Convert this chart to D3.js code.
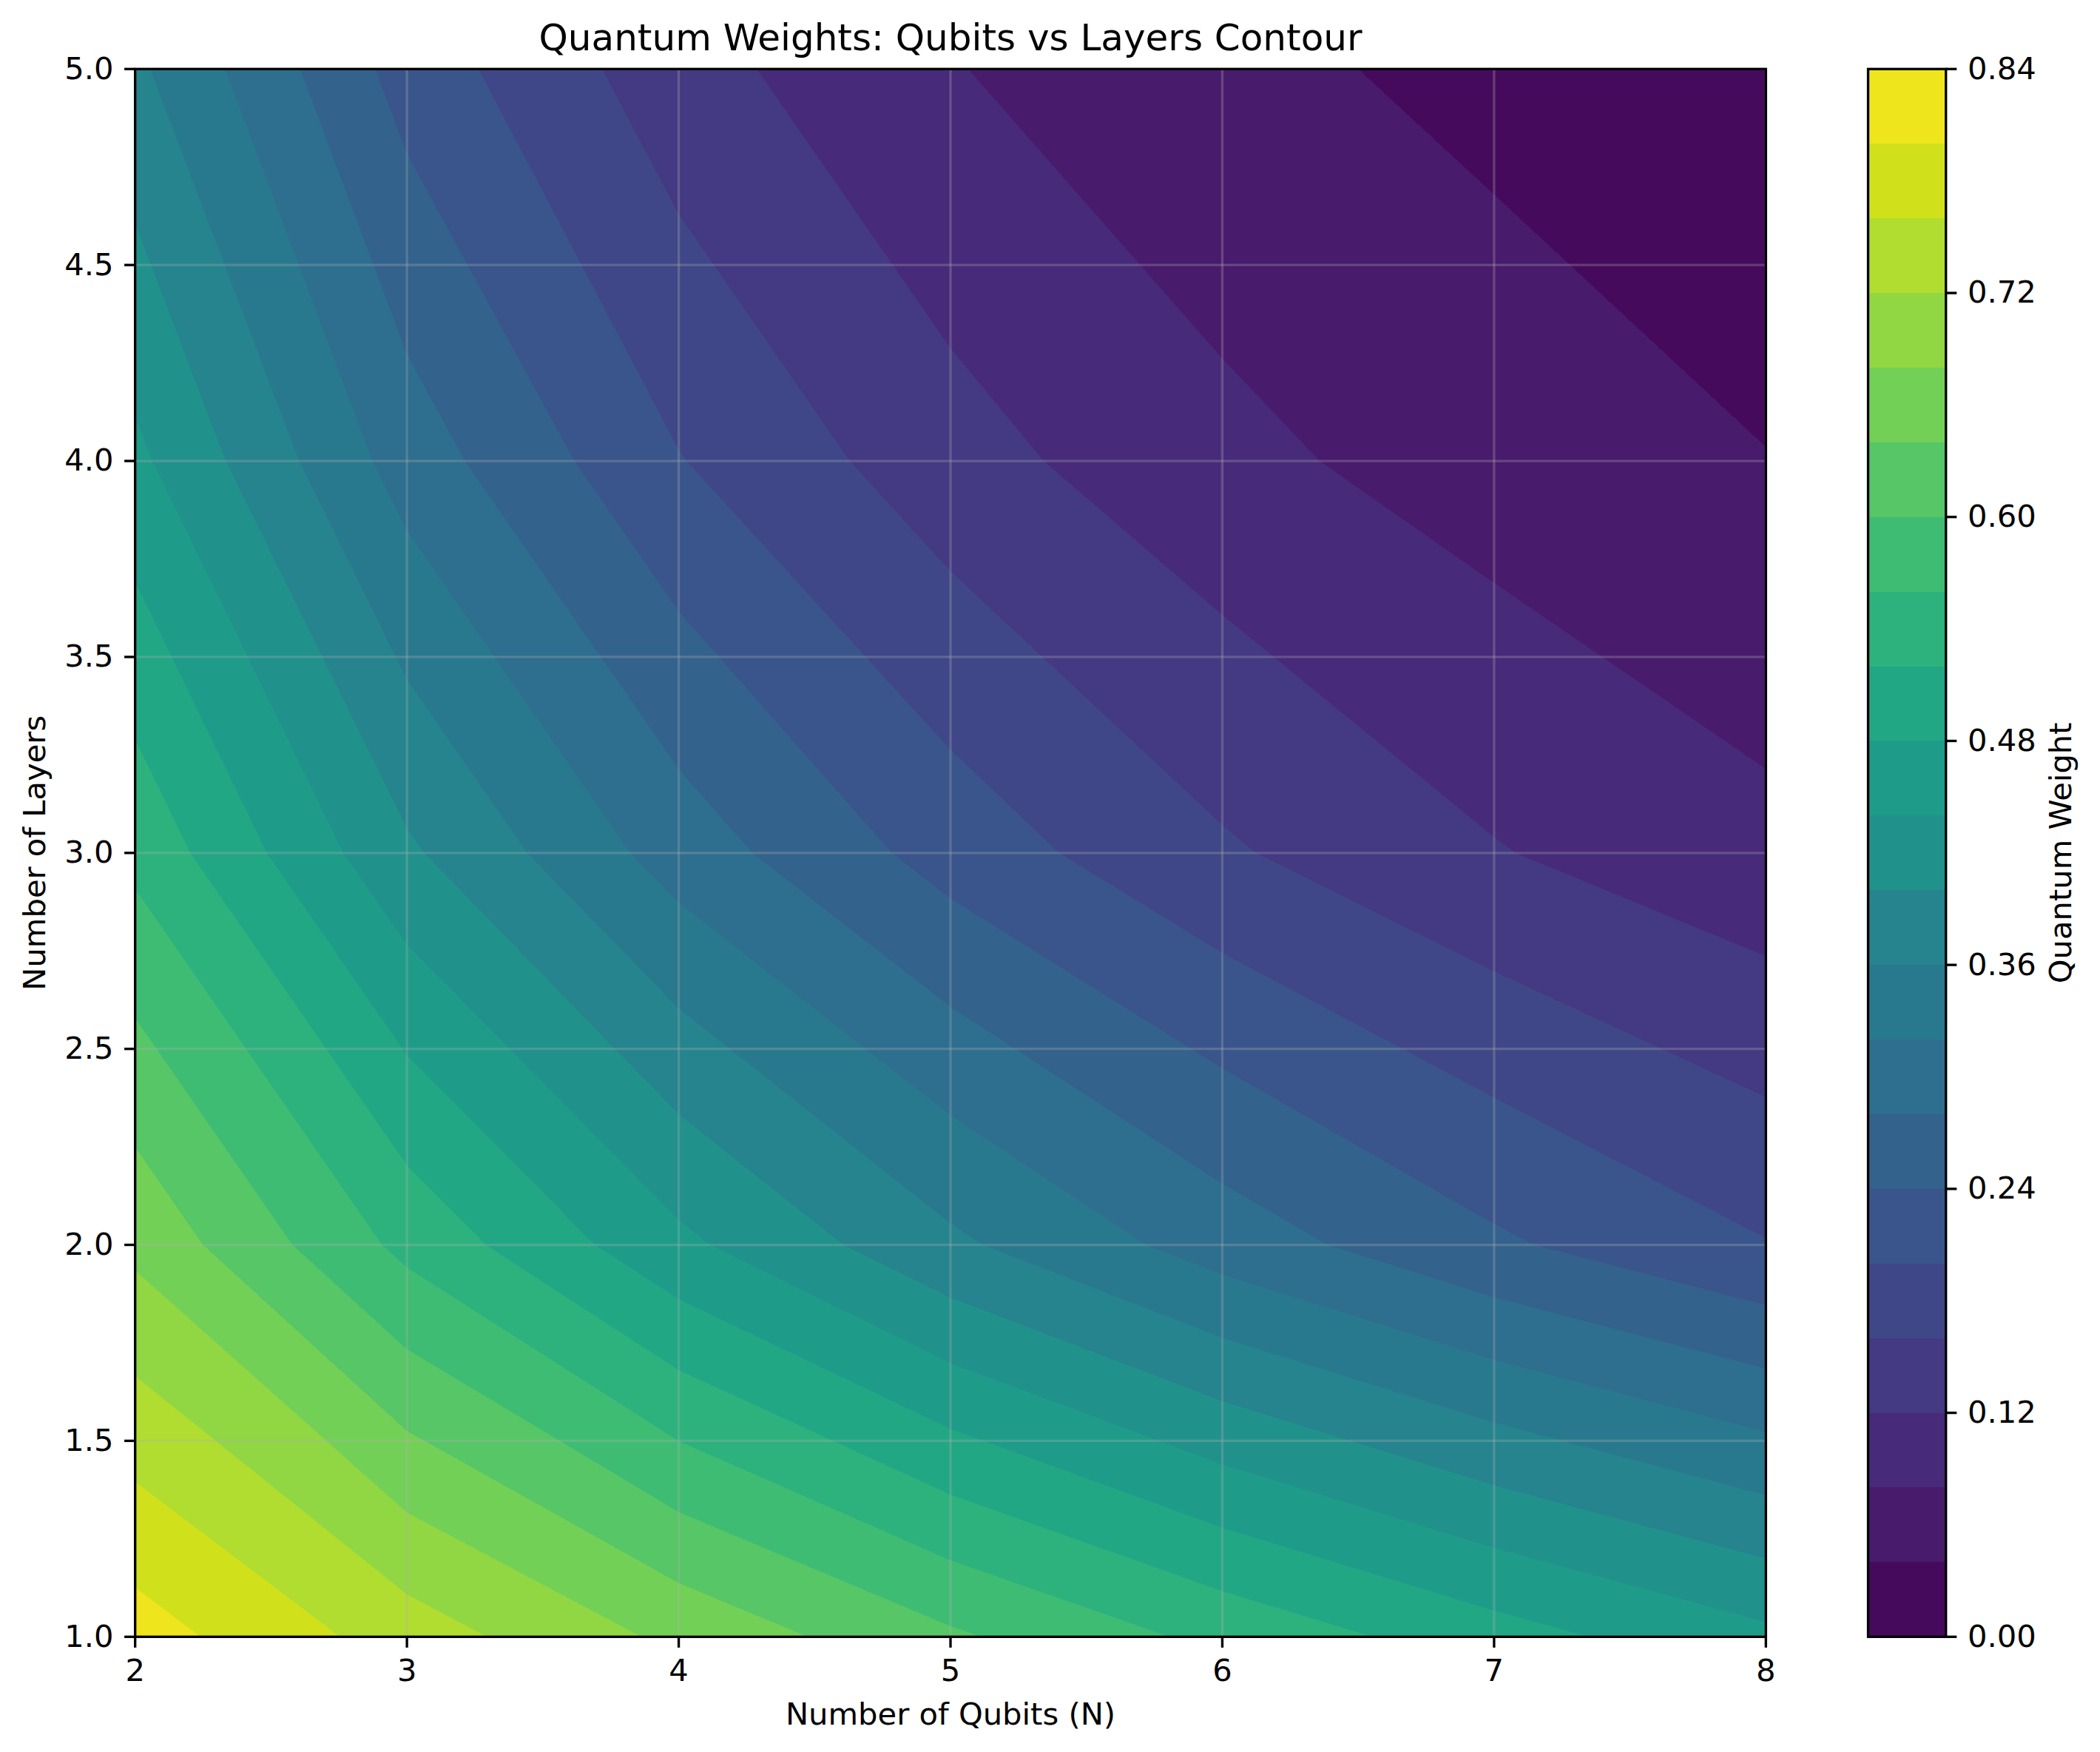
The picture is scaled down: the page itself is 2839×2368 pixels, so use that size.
<!DOCTYPE html>
<html>
<head>
<meta charset="utf-8">
<script src="https://cdn.jsdelivr.net/npm/d3@7"></script>
<style>
  body { margin: 0; background: #fff; }
  text { font-family: "DejaVu Sans", sans-serif; fill: #000; }
</style>
</head>
<body>
<script>
const qubits = [2, 3, 4, 5, 6, 7, 8];
const layers = [1, 2, 3, 4, 5];

// one row per layer count, read along the qubit axis
const weightsL1 = [0.8187, 0.7408, 0.6703, 0.6065, 0.5488, 0.4966, 0.4493];
const weightsL2 = [0.6703, 0.5488, 0.4493, 0.3679, 0.3012, 0.2466, 0.2019];
const weightsL3 = [0.5488, 0.4066, 0.3012, 0.2231, 0.1653, 0.1225, 0.0907];
const weightsL4 = [0.4493, 0.3012, 0.2019, 0.1353, 0.0907, 0.0608, 0.0408];
const weightsL5 = [0.3679, 0.2231, 0.1353, 0.0821, 0.0498, 0.0302, 0.0183];

const levels = [0, 0.04, 0.08, 0.12, 0.16, 0.2, 0.24, 0.28, 0.32, 0.36, 0.4, 0.44, 0.48, 0.52, 0.56, 0.6, 0.64, 0.68, 0.72, 0.76, 0.8, 0.84];
const yTicks = [1, 1.5, 2, 2.5, 3, 3.5, 4, 4.5, 5];
const barTicks = [0, 0.12, 0.24, 0.36, 0.48, 0.6, 0.72, 0.84];

const w = 2839, h = 2368;
const plotLeft = 182.7, plotRight = 2387.3, plotTop = 93.3, plotBottom = 2212.3;
const barLeft = 2525.5, barRight = 2630.7;
const fontSize = 41.67, tickLen = 14.6, lineW = 3.33;

const svg = d3.select("body").append("svg")
  .attr("width", w)
  .attr("height", h)
  .style("display", "block");

const x = d3.scaleLinear().domain([2, 8]).range([plotLeft, plotRight]);
const y = d3.scaleLinear().domain([1, 5]).range([plotBottom, plotTop]);
const barY = d3.scaleLinear().domain([0, 0.84]).range([plotBottom, plotTop]);
const color = d3.scaleSequential(d3.interpolateViridis).domain([0, 0.84]);

svg.append("clipPath").attr("id", "plot-clip")
  .append("rect")
  .attr("x", plotLeft).attr("y", plotTop)
  .attr("width", plotRight - plotLeft).attr("height", plotBottom - plotTop);

// contour bands, each one painted over the one below
const grid = [weightsL1, weightsL2, weightsL3, weightsL4, weightsL5].flat();
const bands = levels.slice(0, -1);
const contours = d3.contours()
  .size([qubits.length, layers.length])
  .thresholds(bands)(grid);

// d3 puts sample i at coordinate i + 0.5
const toPlot = d3.geoTransform({
  point(cx, cy) {
    this.stream.point(x(qubits[0] + cx - 0.5), y(layers[0] + cy - 0.5));
  }
});
const path = d3.geoPath(toPlot);

svg.append("g")
  .attr("clip-path", "url(#plot-clip)")
  .selectAll("path")
  .data(contours)
  .enter()
  .append("path")
  .attr("d", path)
  .attr("fill", (d) => color(d.value + 0.02))
  .attr("shape-rendering", "crispEdges");

// grid
svg.append("g").selectAll("line")
  .data(qubits)
  .enter()
  .append("line")
  .attr("x1", (d) => x(d)).attr("x2", (d) => x(d))
  .attr("y1", plotTop).attr("y2", plotBottom)
  .attr("stroke", "#b0b0b0").attr("stroke-opacity", 0.3).attr("stroke-width", lineW);

svg.append("g").selectAll("line")
  .data(yTicks)
  .enter()
  .append("line")
  .attr("y1", (d) => y(d)).attr("y2", (d) => y(d))
  .attr("x1", plotLeft).attr("x2", plotRight)
  .attr("stroke", "#b0b0b0").attr("stroke-opacity", 0.3).attr("stroke-width", lineW);

// colorbar
svg.append("g").selectAll("rect")
  .data(bands)
  .enter()
  .append("rect")
  .attr("x", barLeft)
  .attr("width", barRight - barLeft)
  .attr("y", (d) => barY(d + 0.04))
  .attr("height", (d) => barY(d) - barY(d + 0.04))
  .attr("fill", (d) => color(d + 0.02))
  .attr("shape-rendering", "crispEdges");

// frames
[[plotLeft, plotRight], [barLeft, barRight]].forEach(([a, b]) => {
  svg.append("rect")
    .attr("x", a).attr("y", plotTop)
    .attr("width", b - a).attr("height", plotBottom - plotTop)
    .attr("fill", "none").attr("stroke", "#000").attr("stroke-width", lineW);
});

function styleAxis(g) {
  g.select(".domain").remove();
  g.selectAll(".tick line").attr("stroke", "#000").attr("stroke-width", lineW);
  g.selectAll(".tick text").attr("font-size", fontSize).attr("fill", "#000");
}

svg.append("g")
  .attr("transform", `translate(0,${plotBottom})`)
  .call(d3.axisBottom(x).tickValues(qubits).tickFormat(d3.format("d"))
    .tickSize(tickLen).tickPadding(15.2).offset(0))
  .call(styleAxis);

svg.append("g")
  .attr("transform", `translate(${plotLeft},0)`)
  .call(d3.axisLeft(y).tickValues(yTicks).tickFormat(d3.format(".1f"))
    .tickSize(tickLen).tickPadding(14.6).offset(0))
  .call(styleAxis);

svg.append("g")
  .attr("transform", `translate(${barRight},0)`)
  .call(d3.axisRight(barY).tickValues(barTicks).tickFormat(d3.format(".2f"))
    .tickSize(tickLen).tickPadding(14.6).offset(0))
  .call(styleAxis);

// titles
svg.append("text")
  .attr("x", (plotLeft + plotRight) / 2).attr("y", 68)
  .attr("text-anchor", "middle").attr("font-size", 50)
  .text("Quantum Weights: Qubits vs Layers Contour");

svg.append("text")
  .attr("x", (plotLeft + plotRight) / 2).attr("y", 2331)
  .attr("text-anchor", "middle").attr("font-size", fontSize)
  .text("Number of Qubits (N)");

svg.append("text")
  .attr("transform", `translate(60.7,${(plotTop + plotBottom) / 2}) rotate(-90)`)
  .attr("text-anchor", "middle").attr("font-size", fontSize)
  .text("Number of Layers");

svg.append("text")
  .attr("transform", `translate(2799.5,${(plotTop + plotBottom) / 2}) rotate(-90)`)
  .attr("text-anchor", "middle").attr("font-size", fontSize)
  .text("Quantum Weight");
</script>
</body>
</html>
